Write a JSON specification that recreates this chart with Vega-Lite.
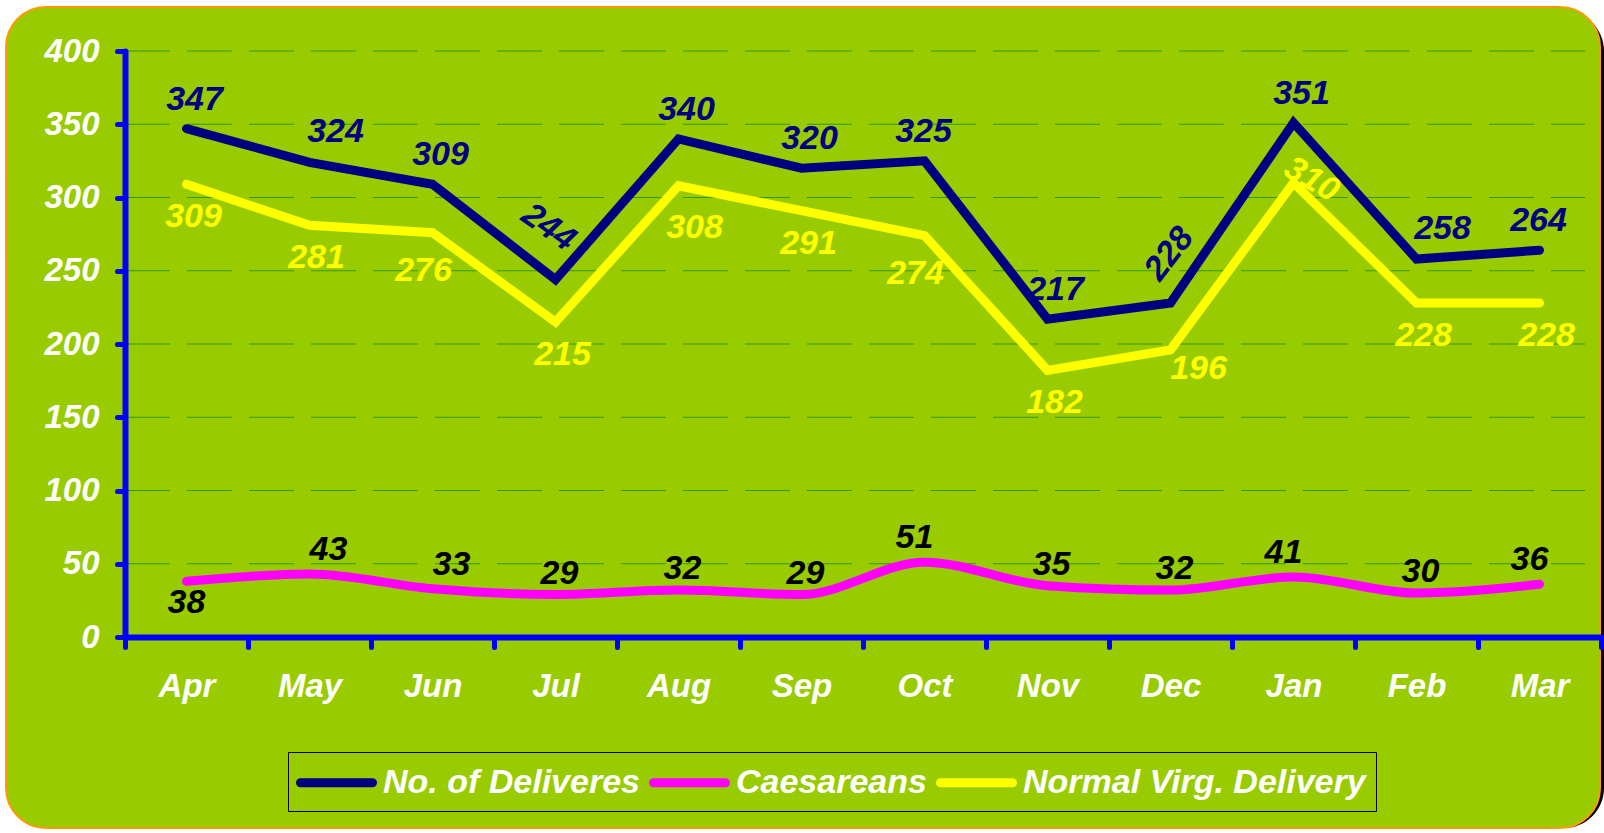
{
  "$schema": "https://vega.github.io/schema/vega-lite/v6.json",
  "width": 1594,
  "height": 821,
  "autosize": {"type": "none"},
  "padding": {"left": 6, "top": 7, "right": 4, "bottom": 5},
  "background": "white",
  "config": {"view": {"stroke": null}, "text": {"font": "Liberation Sans", "fontSize": 34, "fontStyle": "italic", "fontWeight": "bold", "align": "center", "baseline": "middle"}},
  "datasets": {
    "main": [
      {"month": "Apr", "series": "No. of Deliveres", "value": 347},
      {"month": "May", "series": "No. of Deliveres", "value": 324},
      {"month": "Jun", "series": "No. of Deliveres", "value": 309},
      {"month": "Jul", "series": "No. of Deliveres", "value": 244},
      {"month": "Aug", "series": "No. of Deliveres", "value": 340},
      {"month": "Sep", "series": "No. of Deliveres", "value": 320},
      {"month": "Oct", "series": "No. of Deliveres", "value": 325},
      {"month": "Nov", "series": "No. of Deliveres", "value": 217},
      {"month": "Dec", "series": "No. of Deliveres", "value": 228},
      {"month": "Jan", "series": "No. of Deliveres", "value": 351},
      {"month": "Feb", "series": "No. of Deliveres", "value": 258},
      {"month": "Mar", "series": "No. of Deliveres", "value": 264},
      {"month": "Apr", "series": "Caesareans", "value": 38},
      {"month": "May", "series": "Caesareans", "value": 43},
      {"month": "Jun", "series": "Caesareans", "value": 33},
      {"month": "Jul", "series": "Caesareans", "value": 29},
      {"month": "Aug", "series": "Caesareans", "value": 32},
      {"month": "Sep", "series": "Caesareans", "value": 29},
      {"month": "Oct", "series": "Caesareans", "value": 51},
      {"month": "Nov", "series": "Caesareans", "value": 35},
      {"month": "Dec", "series": "Caesareans", "value": 32},
      {"month": "Jan", "series": "Caesareans", "value": 41},
      {"month": "Feb", "series": "Caesareans", "value": 30},
      {"month": "Mar", "series": "Caesareans", "value": 36},
      {"month": "Apr", "series": "Normal Virg. Delivery", "value": 309},
      {"month": "May", "series": "Normal Virg. Delivery", "value": 281},
      {"month": "Jun", "series": "Normal Virg. Delivery", "value": 276},
      {"month": "Jul", "series": "Normal Virg. Delivery", "value": 215},
      {"month": "Aug", "series": "Normal Virg. Delivery", "value": 308},
      {"month": "Sep", "series": "Normal Virg. Delivery", "value": 291},
      {"month": "Oct", "series": "Normal Virg. Delivery", "value": 274},
      {"month": "Nov", "series": "Normal Virg. Delivery", "value": 182},
      {"month": "Dec", "series": "Normal Virg. Delivery", "value": 196},
      {"month": "Jan", "series": "Normal Virg. Delivery", "value": 310},
      {"month": "Feb", "series": "Normal Virg. Delivery", "value": 228},
      {"month": "Mar", "series": "Normal Virg. Delivery", "value": 228}
    ],
    "grid": [{"v": 50}, {"v": 100}, {"v": 150}, {"v": 200}, {"v": 250}, {"v": 300}, {"v": 350}, {"v": 400}],
    "frame": [{"k": "frame"}]
  },
  "data": {"name": "main"},
  "layer": [
    {
      "data": {"name": "frame"},
      "mark": {"type": "rect", "fill": "#000000", "cornerRadius": 40, "xOffset": 4, "yOffset": 4},
      "encoding": {}
    },
    {
      "data": {"name": "frame"},
      "mark": {"type": "rect", "fill": "#99CC00", "stroke": "#FF9900", "strokeWidth": 2, "cornerRadius": 40},
      "encoding": {}
    },
    {
      "data": {"name": "grid"},
      "mark": {"type": "rule", "color": "#339900", "strokeWidth": 1.2, "strokeDash": [45, 17]},
      "encoding": {
        "x": {"datum": "Apr", "type": "nominal", "bandPosition": 0},
        "x2": {"datum": "Mar", "bandPosition": 0.87},
        "y": {"field": "v", "type": "quantitative"}
      }
    },
    {
      "encoding": {
        "x": {
          "field": "month",
          "type": "nominal",
          "scale": {
            "type": "band",
            "domain": ["Apr", "May", "Jun", "Jul", "Aug", "Sep", "Oct", "Nov", "Dec", "Jan", "Feb", "Mar"],
            "range": [119, 1595],
            "paddingInner": 0,
            "paddingOuter": 0
          },
          "axis": {
            "title": null,
            "offset": -191,
            "zindex": 1,
            "grid": false,
            "domainColor": "#0000FF",
            "domainWidth": 6,
            "domainCap": "round",
            "tickColor": "#0000FF",
            "tickWidth": 5,
            "tickSize": 10,
            "tickCap": "round",
            "tickBand": "extent",
            "labelAngle": 0,
            "labelAlign": "center",
            "labelColor": "#FFFFFF",
            "labelFont": "Liberation Sans",
            "labelFontSize": 33,
            "labelFontStyle": "italic",
            "labelFontWeight": "bold",
            "labelPadding": 39
          }
        },
        "y": {
          "field": "value",
          "type": "quantitative",
          "scale": {"domain": [0, 400], "range": [630, 44], "nice": false},
          "axis": {
            "title": null,
            "offset": -119,
            "zindex": 1,
            "grid": false,
            "values": [0, 50, 100, 150, 200, 250, 300, 350, 400],
            "domainColor": "#0000FF",
            "domainWidth": 6,
            "domainCap": "round",
            "tickColor": "#0000FF",
            "tickWidth": 5,
            "tickSize": 8,
            "tickCap": "round",
            "labelColor": "#FFFFFF",
            "labelFont": "Liberation Sans",
            "labelFontSize": 33,
            "labelFontStyle": "italic",
            "labelFontWeight": "bold",
            "labelPadding": 18
          }
        }
      },
      "layer": [
        {
          "transform": [{"filter": "datum.series !== 'Caesareans'"}],
          "mark": {"type": "line", "strokeWidth": 9, "strokeCap": "round", "strokeJoin": "miter"},
          "encoding": {
            "color": {
              "field": "series",
              "type": "nominal",
              "scale": {
                "domain": ["No. of Deliveres", "Caesareans", "Normal Virg. Delivery"],
                "range": ["#000080", "#FF00FF", "#FFFF00"]
              },
              "legend": {
                "title": null,
                "orient": "none",
                "legendX": 282,
                "legendY": 745,
                "direction": "horizontal",
                "columns": 3,
                "symbolType": "M-2.25,0H2.25",
                "symbolSize": 1024,
                "symbolStrokeWidth": 9,
                "symbolOffset": 18,
                "labelFont": "Liberation Sans",
                "labelFontSize": 34,
                "labelFontStyle": "italic",
                "labelFontWeight": "bold",
                "labelColor": "#FFFFFF",
                "labelLimit": 600,
                "labelOffset": 26,
                "columnPadding": -5,
                "padding": 10,
                "strokeColor": "#000000",
                "encode": {"symbols": {"update": {"strokeCap": {"value": "round"}}}}
              }
            }
          }
        },
        {
          "transform": [{"filter": "datum.series === 'Caesareans'"}],
          "mark": {"type": "line", "strokeWidth": 9, "strokeCap": "round", "interpolate": "monotone"},
          "encoding": {"color": {"field": "series", "type": "nominal"}}
        },
        {
          "transform": [{"filter": "datum.series === 'No. of Deliveres' && indexof(['Apr','Jun','Aug','Sep','Nov','Jan'], datum.month) >= 0"}],
          "mark": {"type": "text", "color": "#000080", "xOffset": 8, "yOffset": -29},
          "encoding": {"text": {"field": "value", "type": "quantitative"}}
        },
        {
          "transform": [{"filter": "datum.series === 'No. of Deliveres' && indexof(['May','Feb'], datum.month) >= 0"}],
          "mark": {"type": "text", "color": "#000080", "xOffset": 26, "yOffset": -30},
          "encoding": {"text": {"field": "value", "type": "quantitative"}}
        },
        {
          "transform": [{"filter": "datum.series === 'No. of Deliveres' && indexof(['Oct','Mar'], datum.month) >= 0"}],
          "mark": {"type": "text", "color": "#000080", "xOffset": -1, "yOffset": -29},
          "encoding": {"text": {"field": "value", "type": "quantitative"}}
        },
        {
          "transform": [{"filter": "datum.series === 'No. of Deliveres' && datum.month === 'Jul'"}],
          "mark": {"type": "text", "color": "#000080", "angle": 35, "xOffset": -7, "yOffset": -52},
          "encoding": {"text": {"field": "value", "type": "quantitative"}}
        },
        {
          "transform": [{"filter": "datum.series === 'No. of Deliveres' && datum.month === 'Dec'"}],
          "mark": {"type": "text", "color": "#000080", "angle": -52, "xOffset": -1, "yOffset": -49},
          "encoding": {"text": {"field": "value", "type": "quantitative"}}
        },
        {
          "transform": [{"filter": "datum.series === 'Normal Virg. Delivery' && indexof(['Apr','May','Jul','Sep','Nov','Feb','Mar'], datum.month) >= 0"}],
          "mark": {"type": "text", "color": "#FFFF00", "xOffset": 7, "yOffset": 33},
          "encoding": {"text": {"field": "value", "type": "quantitative"}}
        },
        {
          "transform": [{"filter": "datum.series === 'Normal Virg. Delivery' && indexof(['Jun','Oct'], datum.month) >= 0"}],
          "mark": {"type": "text", "color": "#FFFF00", "xOffset": -9, "yOffset": 38},
          "encoding": {"text": {"field": "value", "type": "quantitative"}}
        },
        {
          "transform": [{"filter": "datum.series === 'Normal Virg. Delivery' && datum.month === 'Aug'"}],
          "mark": {"type": "text", "color": "#FFFF00", "xOffset": 16, "yOffset": 42},
          "encoding": {"text": {"field": "value", "type": "quantitative"}}
        },
        {
          "transform": [{"filter": "datum.series === 'Normal Virg. Delivery' && datum.month === 'Dec'"}],
          "mark": {"type": "text", "color": "#FFFF00", "xOffset": 28, "yOffset": 19},
          "encoding": {"text": {"field": "value", "type": "quantitative"}}
        },
        {
          "transform": [{"filter": "datum.series === 'Normal Virg. Delivery' && datum.month === 'Jan'"}],
          "mark": {"type": "text", "color": "#FFFF00", "angle": 30, "xOffset": 18, "yOffset": -3},
          "encoding": {"text": {"field": "value", "type": "quantitative"}}
        },
        {
          "transform": [{"filter": "datum.series === 'Caesareans' && indexof(['Jul','Aug','Sep','Nov','Dec','Feb'], datum.month) >= 0"}],
          "mark": {"type": "text", "color": "#000000", "xOffset": 4, "yOffset": -21},
          "encoding": {"text": {"field": "value", "type": "quantitative"}}
        },
        {
          "transform": [{"filter": "datum.series === 'Caesareans' && indexof(['May','Jun'], datum.month) >= 0"}],
          "mark": {"type": "text", "color": "#000000", "xOffset": 19, "yOffset": -24},
          "encoding": {"text": {"field": "value", "type": "quantitative"}}
        },
        {
          "transform": [{"filter": "datum.series === 'Caesareans' && indexof(['Oct','Jan','Mar'], datum.month) >= 0"}],
          "mark": {"type": "text", "color": "#000000", "xOffset": -10, "yOffset": -24},
          "encoding": {"text": {"field": "value", "type": "quantitative"}}
        },
        {
          "transform": [{"filter": "datum.series === 'Caesareans' && datum.month === 'Apr'"}],
          "mark": {"type": "text", "color": "#000000", "xOffset": 0, "yOffset": 22},
          "encoding": {"text": {"field": "value", "type": "quantitative"}}
        }
      ]
    }
  ]
}
